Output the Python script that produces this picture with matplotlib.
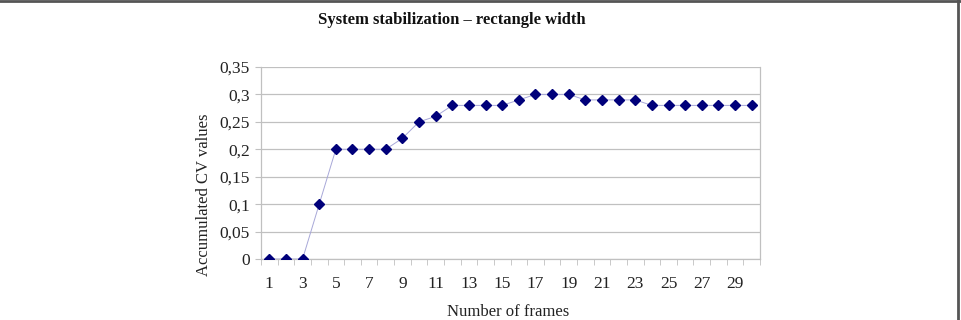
import matplotlib.pyplot as plt
import numpy as np
from matplotlib.lines import Line2D

# data
frames = list(range(1, 31))
cv_values = [0, 0, 0, 0.10, 0.20, 0.20, 0.20, 0.20, 0.22, 0.25,
             0.26, 0.28, 0.28, 0.28, 0.28, 0.29, 0.30, 0.30, 0.30, 0.29,
             0.29, 0.29, 0.29, 0.28, 0.28, 0.28, 0.28, 0.28, 0.28, 0.28]
y_ticks = [0, 0.05, 0.1, 0.15, 0.2, 0.25, 0.3, 0.35]
y_tick_labels = ['0', '0,05', '0,1', '0,15', '0,2', '0,25', '0,3', '0,35']
x_tick_labels = [str(f) for f in frames if f % 2 == 1]

plt.rcParams['font.family'] = ['Liberation Serif', 'DejaVu Serif']

W, H = 961, 320
fig = plt.figure(figsize=(W / 100, H / 100), dpi=100)

# plot area in pixels: left 261, right 760, top 67, bottom 259
ax = fig.add_axes([261 / W, 1 - 259 / H, (760 - 261) / W, (259 - 67) / H])

ax.plot(frames, cv_values, color='#a8a8d8', lw=0.7, zorder=2)
ax.plot(frames, cv_values, ls='none', marker='D', ms=5,
        color='#00007a', zorder=3)

ax.set_xlim(0.5, 30.5)
ax.set_ylim(0, 0.35)
ax.set_yticks(y_ticks)
ax.set_yticklabels(y_tick_labels)
ax.set_xticks([f for f in frames if f % 2 == 1])
ax.set_xticklabels(x_tick_labels)
ax.set_xticks(np.arange(0.5, 31, 1), minor=True)

ax.grid(axis='y', color='#c0c0c0', lw=0.9)
ax.set_axisbelow(True)
for side in ['left', 'bottom', 'right']:
    ax.spines[side].set_color('#c0c0c0')
    ax.spines[side].set_linewidth(0.9)
ax.spines['top'].set_visible(False)

ax.tick_params(axis='y', length=4, color='#c0c0c0', labelsize=12.5, pad=4,
               labelcolor='#222222')
ax.tick_params(axis='x', which='major', length=0, labelsize=12.5, pad=12,
               labelcolor='#222222')
ax.tick_params(axis='x', which='minor', length=4, color='#c0c0c0',
               direction='out')

fig.text(452 / W, 1 - 20 / H, 'System stabilization \u2013 rectangle width',
         ha='center', va='center', fontsize=12, fontweight='bold',
         color='#111111')
fig.text(508 / W, 1 - 312 / H, 'Number of frames', ha='center',
         va='center', fontsize=12, color='#222222')
fig.text(204 / W, 1 - 195 / H, 'Accumulated CV values', ha='center',
         va='center', rotation=90, fontsize=12, color='#222222')

# frame border of the source figure
fig.add_artist(Line2D([0, 1], [1 - 1 / H, 1 - 1 / H],
                      transform=fig.transFigure, color='#555555', lw=2))
fig.add_artist(Line2D([1 - 3 / W, 1 - 3 / W], [0, 1],
                      transform=fig.transFigure, color='#555555', lw=2))

fig.savefig('out.png', dpi=100)
